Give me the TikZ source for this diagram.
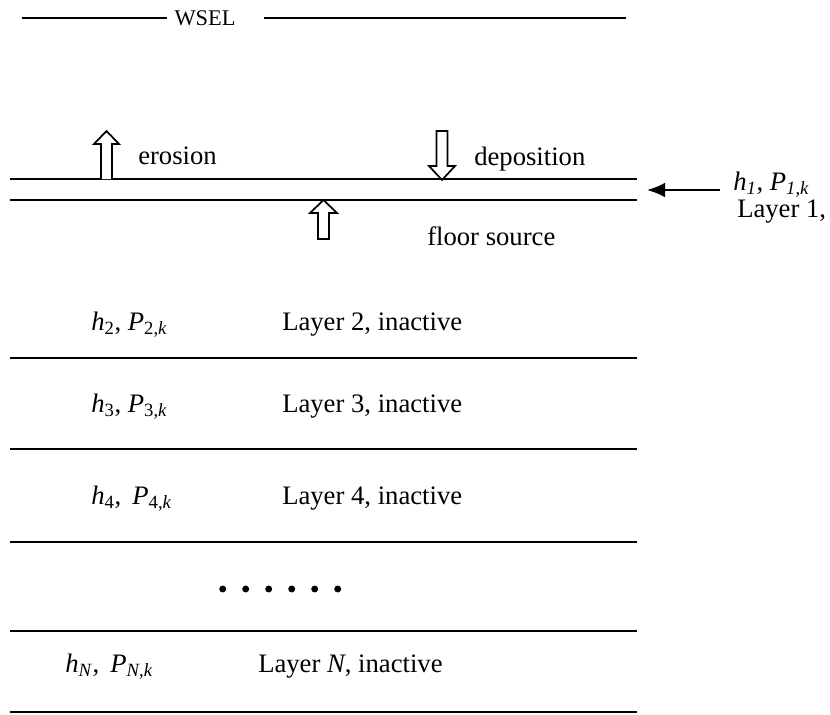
\documentclass[tikz,border=0pt]{standalone}
\usepackage{fontspec}
\setmainfont{Liberation Serif}
\usetikzlibrary{arrows.meta}

\begin{document}
\begin{tikzpicture}[
  x=0.75pt, y=-0.75pt,
  font=\fontsize{20}{24}\selectfont,
  bed/.style={line width=1.5pt},
  flux/.style={draw,line width=1.3pt,fill=white,line join=miter},
  lbl/.style={inner sep=0pt,anchor=west},
  feed/.style={-{Latex[length=13.5pt,width=11pt]},line width=1.5pt}
]
\useasboundingbox (0,0) rectangle (830,714);

% water surface
\node[inner xsep=6pt,font=\fontsize{16.8}{20}\selectfont] (wsel) at (205,18) {WSEL};
\draw[bed] (22,18) -- (167,18);
\draw[bed] (264,18) -- (626,18);

% active layer
\draw[bed] (10,179) -- (637,179);
\draw[bed] (10,200) -- (637,200);
\draw[flux] (101,179) -- (101,144) -- (94,144) -- (106.5,131) -- (119,144) -- (112,144) -- (112,179);
\draw[flux] (436.5,131) -- (436.5,166) -- (429,166) -- (442,180) -- (455,166) -- (447.5,166) -- (447.5,131) -- cycle;
\draw[flux] (318,239) -- (318,213) -- (310,213) -- (323.5,200) -- (337,213) -- (329,213) -- (329,239) -- cycle;
\node[lbl] (ero) at (138,156) {erosion};
\node[lbl] (dep) at (474,159) {deposition};
\node[lbl] (floor) at (427,236) {floor source};

\node[lbl] (h1) at (733,185) {\textit{h}\textsubscript{\textit{1}}, \textit{P}\textsubscript{\textit{1,k}}};
\node[lbl] (lay1) at (737,212) {Layer 1,};
\coordinate (surf) at (647,190);
\draw[feed] (h1.west |- surf) ++(-13,0) -- (surf);

% inactive layers
\draw[bed] (10,358) -- (637,358);
\draw[bed] (10,449) -- (637,449);
\draw[bed] (10,542) -- (637,542);
\draw[bed] (10,631) -- (637,631);
\draw[bed] (10,712) -- (637,712);

\node[lbl] (h2) at (91,325) {\textit{h}\textsubscript{2}, \textit{P}\textsubscript{2,\textit{k}}};
\node[lbl] (lay2) at (282,325) {Layer 2, inactive};
\node[lbl] (h3) at (91,407) {\textit{h}\textsubscript{3}, \textit{P}\textsubscript{3,\textit{k}}};
\node[lbl] (lay3) at (282,407) {Layer 3, inactive};
\node[lbl] (h4) at (91,499) {\textit{h}\textsubscript{4},\ \thinspace\textit{P}\textsubscript{4,\textit{k}}};
\node[lbl] (lay4) at (282,499) {Layer 4, inactive};

\foreach \i in {0,...,5}
  \fill (222.7+23*\i,589) circle (2.6pt);

\node[lbl] (hN) at (65,667) {\textit{h}\textsubscript{\textit{N}},\ \thinspace\textit{P}\textsubscript{\textit{N},\textit{k}}};
\node[lbl] (layN) at (258,667) {Layer \textit{N}, inactive};
\end{tikzpicture}
\end{document}
